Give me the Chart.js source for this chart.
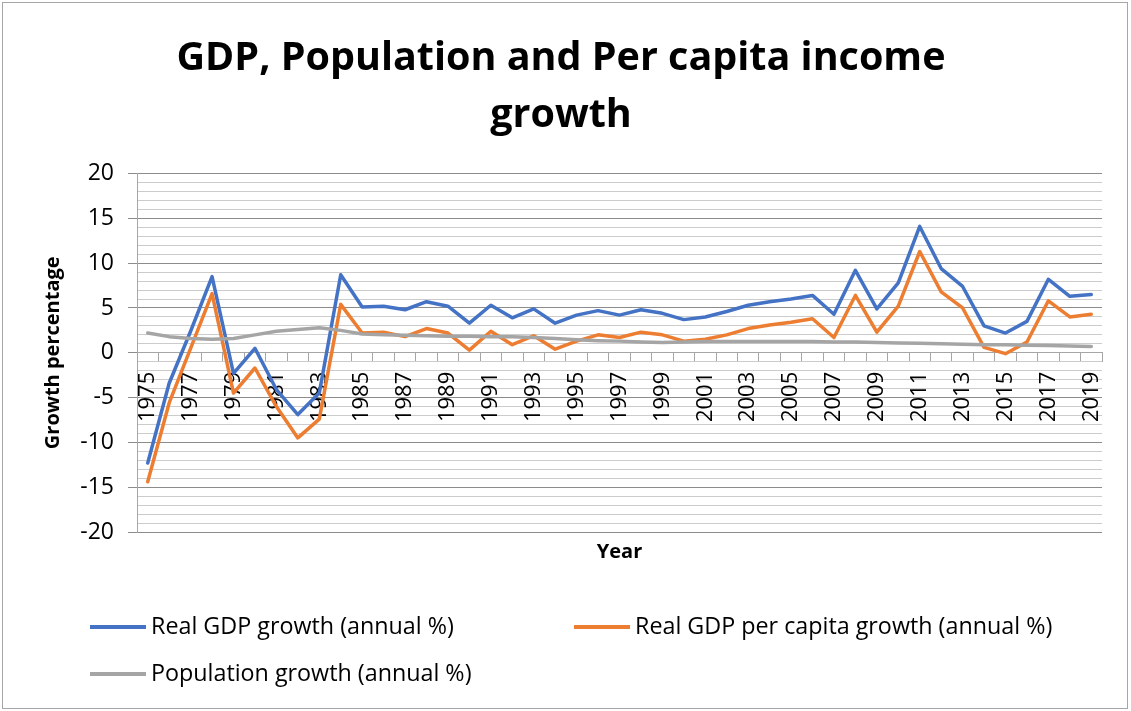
<!DOCTYPE html>
<html>
<head>
<meta charset="utf-8">
<script src="https://cdn.jsdelivr.net/npm/chart.js@4/dist/chart.umd.min.js"></script>
<style>
    body { margin: 0; background: #fff; }
    #wrap { position: relative; width: 1131px; height: 711px; }
    #frame { position: absolute; left: 2px; top: 2px; width: 1124px; height: 705px; border: 1px solid #a6a6a6; pointer-events: none; }
    .legItem { position: absolute; font-family: "Open Sans", sans-serif; font-size: 23.3px; color: #000; white-space: nowrap; line-height: 26px; }
    .legItem span.swatch { display: inline-block; width: 56px; height: 4px; vertical-align: middle; margin-right: 5px; position: relative; top: -1px; }
</style>
</head>
<body>
<div id="wrap">
    <canvas id="grafico" width="1131" height="711"></canvas>
    <div id="frame"></div>
    <div id="legenda"></div>
</div>
<script>
const anni = [];
for (let a = 1975; a <= 2019; a++) anni.push(String(a));

const gdpGrowth = [-12.3, -3.4, 2.4, 8.5, -2.3, 0.5, -4.1, -6.9, -4.5, 8.7,
    5.1, 5.2, 4.8, 5.7, 5.2, 3.3, 5.3, 3.9, 4.9, 3.3,
    4.2, 4.7, 4.2, 4.8, 4.4, 3.7, 4.0, 4.6, 5.3, 5.7,
    6.0, 6.4, 4.3, 9.2, 4.9, 7.8, 14.1, 9.4, 7.4, 3.0,
    2.2, 3.5, 8.2, 6.3, 6.5];

const perCapitaGrowth = [-14.4, -5.6, 0.5, 6.6, -4.5, -1.7, -6.0, -9.5, -7.4, 5.4,
    2.2, 2.3, 1.8, 2.7, 2.2, 0.3, 2.4, 0.9, 1.9, 0.4,
    1.3, 2.0, 1.7, 2.3, 2.0, 1.3, 1.5, 2.0, 2.7, 3.1,
    3.4, 3.8, 1.7, 6.4, 2.3, 5.2, 11.3, 6.8, 5.0, 0.6,
    -0.1, 1.2, 5.8, 4.0, 4.3];

const popGrowth = [2.2, 1.8, 1.6, 1.5, 1.6, 2.0, 2.4, 2.6, 2.8, 2.5,
    2.1, 2.0, 1.95, 1.9, 1.85, 1.85, 1.8, 1.8, 1.7, 1.6,
    1.45, 1.35, 1.3, 1.2, 1.15, 1.2, 1.25, 1.25, 1.25, 1.25,
    1.25, 1.25, 1.2, 1.2, 1.15, 1.1, 1.05, 1.0, 0.95, 0.9,
    0.9, 0.85, 0.8, 0.75, 0.7];

const nomiSerie = ["Real GDP growth (annual %)", "Real GDP per capita growth (annual %)", "Population growth (annual %)"];
const coloriSerie = ["#4472C4", "#ED7D31", "#A5A5A5"];

const font = "'Open Sans', sans-serif";

function serie(i, dati, ordine)
{
    return {
        label: nomiSerie[i],
        data: dati,
        borderColor: coloriSerie[i],
        backgroundColor: coloriSerie[i],
        borderWidth: 3.5,
        pointRadius: 0,
        tension: 0,
        borderJoinStyle: "round",
        borderCapStyle: "round",
        order: ordine
    };
}

let chart = new Chart(document.getElementById("grafico"), {
    type: "line",
    data: {
        labels: anni,
        datasets: [serie(0, gdpGrowth, 3), serie(1, perCapitaGrowth, 2), serie(2, popGrowth, 1)]
    },
    options: {
        responsive: false,
        animation: false,
        layout: { padding: { left: 20, right: 29, top: 0, bottom: 147 } },
        plugins: {
            legend: { display: false },
            tooltip: { enabled: false },
            title: {
                display: true,
                text: ["GDP, Population and Per capita income", "growth"],
                color: "#000",
                font: { family: font, size: 39.5, weight: "bold", lineHeight: 1.45 },
                padding: { top: 30, bottom: 29 }
            }
        },
        scales: {
            // asse degli anni che passa per lo zero
            x: {
                type: "category",
                offset: true,
                position: { y: 0 },
                afterFit: function (scale) { scale.height = 0; },
                grid: { offset: true, drawOnChartArea: false, drawTicks: true, tickLength: 9, color: "#a6a6a6" },
                border: { display: true, color: "#a6a6a6", width: 1 },
                ticks: {
                    autoSkip: false,
                    maxRotation: 90,
                    minRotation: 90,
                    padding: 10,
                    color: "#000",
                    font: { family: font, size: 22 },
                    callback: function (val, idx) { return idx % 2 === 0 ? anni[idx] : ""; }
                }
            },
            // solo per il titolo "Year" sotto il grafico
            xTitolo: {
                type: "category",
                offset: true,
                position: "bottom",
                afterFit: function (scale) { scale.height = 32; },
                grid: { display: false },
                border: { display: false },
                ticks: { display: false },
                title: {
                    display: true,
                    text: "Year",
                    color: "#000",
                    font: { family: font, size: 20, weight: "bold" },
                    padding: { top: 0, bottom: 0 }
                }
            },
            y: {
                min: -20,
                max: 20,
                afterFit: function (scale) { scale.width = 117; },
                border: { display: true, color: "#a6a6a6", width: 1 },
                grid: {
                    color: function (c) { return c.tick.value % 5 === 0 ? "#8c8c8c" : "#cccccc"; },
                    tickColor: function (c) { return c.tick.value % 5 === 0 ? "#8c8c8c" : "rgba(0,0,0,0)"; },
                    tickLength: 9,
                    lineWidth: 1
                },
                ticks: {
                    stepSize: 1,
                    autoSkip: false,
                    padding: 14,
                    color: "#000",
                    font: { family: font, size: 23 },
                    callback: function (v) { return v % 5 === 0 ? String(v) : ""; }
                },
                title: {
                    display: true,
                    text: "Growth percentage",
                    color: "#000",
                    font: { family: font, size: 20, weight: "bold" },
                    padding: { top: 21, bottom: 0 }
                }
            }
        }
    }
});

// legenda html su due colonne
let posizioni = [[90, 612], [574, 612], [90, 659]];
let _leg = document.getElementById("legenda");
chart.data.datasets.forEach(function (ds, i)
{
    let item = document.createElement("div");
    item.className = "legItem";
    item.style.left = posizioni[i][0] + "px";
    item.style.top = posizioni[i][1] + "px";
    let sw = document.createElement("span");
    sw.className = "swatch";
    sw.style.background = ds.borderColor;
    item.appendChild(sw);
    item.appendChild(document.createTextNode(ds.label));
    _leg.appendChild(item);
});
</script>
</body>
</html>
